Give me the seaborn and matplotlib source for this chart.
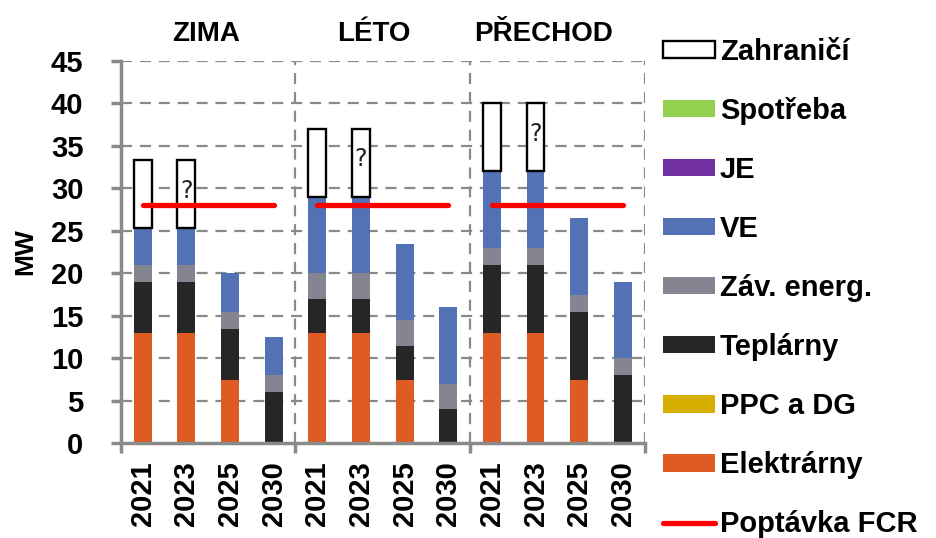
import numpy as np
import pandas as pd
import matplotlib
matplotlib.use("Agg")
import matplotlib.pyplot as plt
from matplotlib.patches import Patch
from matplotlib.lines import Line2D
import seaborn as sns

# --- data ---------------------------------------------------------------
seasons = ["ZIMA", "LÉTO", "PŘECHOD"]
years = ["2021", "2023", "2025", "2030"]

elektrarny = [13, 13, 7.5, 0,   13, 13, 7.5, 0,   13, 13, 7.5, 0]
teplarny   = [6, 6, 6, 6,       4, 4, 4, 4,       8, 8, 8, 8]
zav_energ  = [2, 2, 2, 2,       3, 3, 3, 3,       2, 2, 2, 2]
ve         = [4.3, 4.3, 4.5, 4.5,  9, 9, 9, 9,    9, 9, 9, 9]
zahranici  = [8, 8, None, None, 8, 8, None, None, 8, 8, None, None]
unknown    = [False, True, False, False, False, True, False, False, False, True, False, False]
fcr_demand = [28, 28, 28]

# --- colours -------------------------------------------------------------
colors = {
    "Zahraničí": "white",
    "Spotřeba": "#92D050",
    "JE": "#7030A0",
    "VE": "#5371B5",
    "Záv. energ.": "#858591",
    "Teplárny": "#262626",
    "PPC a DG": "#D6AE00",
    "Elektrárny": "#DE5B24",
    "Poptávka FCR": "#FF0000",
}

keys = [f"{s} {y}" for s in seasons for y in years]
df = pd.DataFrame({
    "key": keys,
    "Elektrárny": elektrarny,
    "Teplárny": teplarny,
    "Záv. energ.": zav_energ,
    "VE": ve,
    "Zahraničí": zahranici,
})

plt.rcParams["font.family"] = ["Liberation Sans", "DejaVu Sans"]
fig = plt.figure(figsize=(9.37, 5.38), dpi=100)
ax = fig.add_axes([0.129, 0.176, 0.559, 0.711])

bw = 0.41
bottom = np.zeros(len(df))
for layer in ["Elektrárny", "Teplárny", "Záv. energ.", "VE"]:
    sns.barplot(data=df, x="key", y=layer, order=keys, color=colors[layer],
                width=bw, errorbar=None, bottom=bottom, linewidth=0,
                saturation=1, ax=ax)
    bottom = bottom + df[layer].to_numpy()

# Zahraničí boxes on top of the stack
mask = df["Zahraničí"].notna().to_numpy()
sub = df[mask]
sns.barplot(data=sub, x="key", y="Zahraničí", order=keys, color="white",
            width=bw, errorbar=None, bottom=bottom[mask], edgecolor="black",
            linewidth=1.7, saturation=1, ax=ax)

for i, q in enumerate(unknown):
    if q:
        ax.text(i, bottom[i] + df["Zahraničí"][i] / 2 + 0.4, "?", ha="center", va="center",
                fontsize=17, color="#222222", family="DejaVu Sans", zorder=5)

# FCR demand line per season
for g, v in enumerate(fcr_demand):
    ax.plot([g * 4, g * 4 + 3], [v, v], color=colors["Poptávka FCR"], lw=3.8,
            solid_capstyle="round", zorder=4)

# --- axes styling -------------------------------------------------------
ax.set_xlim(-0.5, 11.5)
ax.set_ylim(0, 45)
ax.set_yticks(np.arange(0, 46, 5))
grid_kw = dict(color="#8a8a8a", lw=1.6, ls=(0, (5, 3.5)), zorder=0)
for yv in np.arange(5, 46, 5):
    ax.axhline(yv, **grid_kw)
for xv in [3.5, 7.5, 11.5]:
    ax.axvline(xv, **grid_kw)

for side in ["top", "right"]:
    ax.spines[side].set_visible(False)
for side in ["left", "bottom"]:
    ax.spines[side].set_color("#8a8a8a")
    ax.spines[side].set_linewidth(2.5)

ax.set_xticks(range(len(keys)))
ax.set_xticklabels(years * 3, rotation=90, fontsize=21, fontweight="bold")
ax.set_xticks([-0.5, 3.5, 7.5, 11.5], minor=True)
ax.tick_params(axis="x", which="major", length=0, pad=13)
ax.tick_params(axis="x", which="minor", length=7, width=2.5, color="#8a8a8a")
ax.tick_params(axis="y", length=7, width=2.5, color="#8a8a8a", labelsize=21, pad=20)
for lab in ax.get_yticklabels():
    lab.set_fontweight("bold")
ax.set_xlabel("")
ax.set_ylabel("MW", fontsize=19, fontweight="bold", labelpad=10)

for title, xpos in zip(seasons, [1.46, 5.29, 9.18]):
    ax.text(xpos, 1.07, title, transform=ax.get_xaxis_transform(), ha="center",
            va="center", fontsize=20, fontweight="bold")

# --- legend ---------------------------------------------------------------
handles = []
for name in ["Zahraničí", "Spotřeba", "JE", "VE", "Záv. energ.", "Teplárny",
             "PPC a DG", "Elektrárny"]:
    if name == "Zahraničí":
        handles.append(Patch(facecolor="white", edgecolor="black", lw=1.7, label=name))
    else:
        handles.append(Patch(facecolor=colors[name], edgecolor="none", label=name))
handles.append(Line2D([0], [0], color=colors["Poptávka FCR"], lw=3.8,
                      solid_capstyle="round", label="Poptávka FCR"))
leg = fig.legend(handles=handles, loc="upper left", bbox_to_anchor=(0.692, 0.957),
                 frameon=False, fontsize=21, handlelength=1.78, handleheight=0.55,
                 handletextpad=0.17, labelspacing=1.065, borderpad=0)
for t in leg.get_texts():
    t.set_fontweight("bold")

fig.savefig("out.png", dpi=100)
